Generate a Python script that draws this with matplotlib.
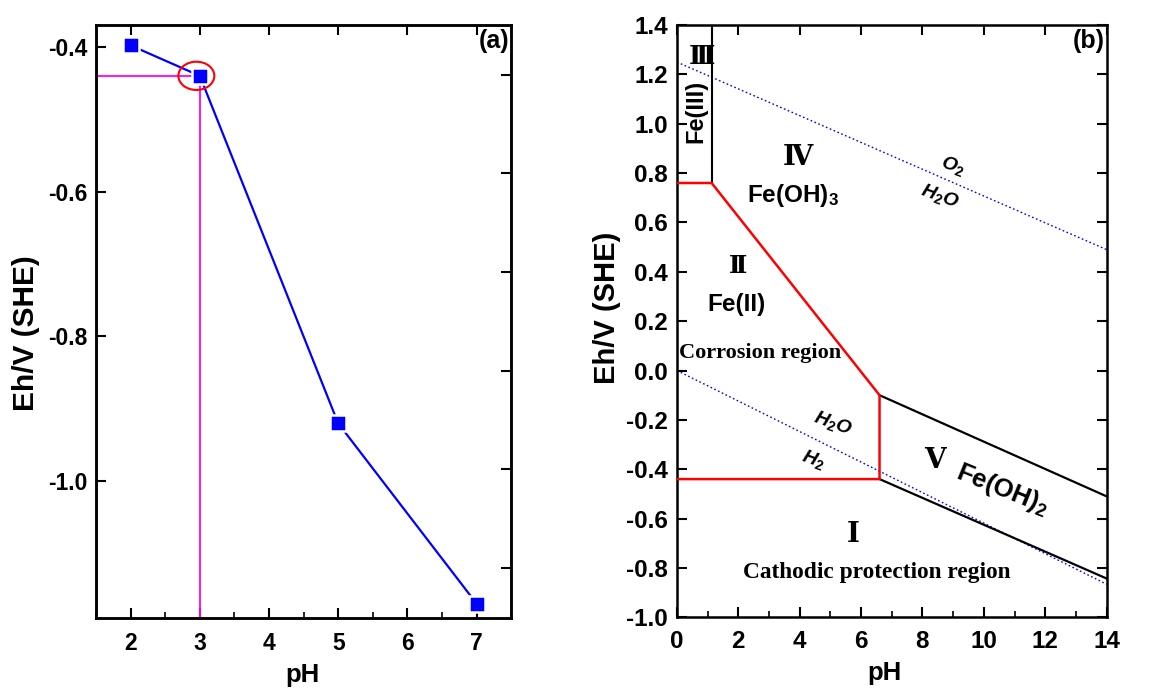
import matplotlib
matplotlib.use("Agg")
import matplotlib.pyplot as plt
from matplotlib.patches import Ellipse
from matplotlib.ticker import MultipleLocator

plt.rcParams['font.family'] = ['Liberation Sans', 'DejaVu Sans']
plt.rcParams['font.weight'] = 'bold'
plt.rcParams['mathtext.fontset'] = 'custom'
plt.rcParams['mathtext.rm'] = 'Liberation Sans:bold'
plt.rcParams['mathtext.bf'] = 'Liberation Sans:bold'
plt.rcParams['mathtext.it'] = 'Liberation Sans:italic:bold'

# ---------------- data: panel (a) ----------------
ph_a = [2, 3, 5, 7]
eh_a = [-0.398, -0.44, -0.92, -1.169]
mark_ph = 3
mark_eh = -0.44
a_xticks = [2, 3, 4, 5, 6, 7]
a_yticks = [-0.4, -0.6, -0.8, -1.0]
a_yticks_right = [-0.4386, -0.5745, -0.7105, -0.8472, -0.9838, -1.1203]

# ---------------- data: panel (b) ----------------
o2_ph = [0, 14]
o2_eh = [1.25, 0.49]
h2_ph = [0, 14]
h2_eh = [0.0, -0.866]
fe3_ph = [1.13, 1.13]
fe3_eh = [1.4, 0.76]
red_ph = [0, 1.13, 6.6, 6.6, 0]
red_eh = [0.76, 0.76, -0.10, -0.44, -0.44]
up_ph = [6.6, 14]
up_eh = [-0.10, -0.51]
lo_ph = [6.6, 14]
lo_eh = [-0.44, -0.843]
b_xticks = [0, 2, 4, 6, 8, 10, 12, 14]
b_yticks = [1.4, 1.2, 1.0, 0.8, 0.6, 0.4, 0.2, 0.0, -0.2, -0.4, -0.6, -0.8, -1.0]

fig = plt.figure(figsize=(11.6, 6.91), dpi=100)

# ================= panel (a) =================
ax1 = fig.add_axes([0.0828, 0.1056, 0.3578, 0.858])
ax1.set_xlim(1.5, 7.5)
ax1.set_ylim(-1.189, -0.37)
ax1.plot([ax1.get_xlim()[0], mark_ph], [mark_eh, mark_eh], color='#FF00FF', lw=1.3, zorder=2)
ax1.plot([mark_ph, mark_ph], [mark_eh, ax1.get_ylim()[0]], color='#FF00FF', lw=1.3, zorder=2)
ax1.plot(ph_a, eh_a, color='#0000FF', lw=1.6, marker='s', markersize=11.5,
         markerfacecolor='#0000FF', markeredgecolor='white', markeredgewidth=1.8, zorder=3)
ax1.add_patch(Ellipse((2.95, mark_eh), 0.52, 0.039, fill=False, edgecolor='#FF0000', lw=1.5, zorder=4))
ax1.set_xticks(a_xticks)
ax1.xaxis.set_minor_locator(MultipleLocator(0.5))
ax1.set_yticks(a_yticks)
ax1.set_yticklabels(['-0.4', '-0.6', '-0.8', '-1.0'])
ax1.tick_params(which='major', direction='in', length=7, width=1.5, top=True, right=False,
                labelsize=16.5, pad=6.5)
ax1.tick_params(axis='x', which='major', pad=10)
ax1.tick_params(which='minor', direction='in', length=4, width=1.2, top=False, right=False)
ax1r = ax1.twinx()
ax1r.set_ylim(ax1.get_ylim())
ax1r.set_yticks(a_yticks_right)
ax1r.set_yticklabels([])
ax1r.tick_params(direction='in', length=7, width=1.5)
for a in (ax1, ax1r):
    for s in a.spines.values():
        s.set_linewidth(1.8)
ax1.set_xlabel('pH', fontsize=18.5, fontweight='bold')
ax1.xaxis.set_label_coords(0.497, -0.096)
ax1.xaxis.label.set_verticalalignment('center')
ax1.set_ylabel('Eh/V (SHE)', fontsize=21.5, fontweight='bold')
ax1.yaxis.set_label_coords(-0.169, 0.48)
ax1.yaxis.label.set_verticalalignment('center')
ax1.text(0.995, 0.973, '(a)', transform=ax1.transAxes, ha='right', va='center',
         fontsize=18, fontweight='bold')

# ================= panel (b) =================
ax2 = fig.add_axes([0.5836, 0.1067, 0.3704, 0.857])
ax2.set_xlim(0, 14)
ax2.set_ylim(-1.0, 1.4)
ax2.plot(o2_ph, o2_eh, color='#0000FF', lw=1.0, linestyle=(0, (1.2, 1.8)), zorder=2)
ax2.plot(h2_ph, h2_eh, color='#0000FF', lw=1.0, linestyle=(0, (1.2, 1.8)), zorder=2)
ax2.plot(fe3_ph, fe3_eh, color='black', lw=1.5, zorder=3)
ax2.plot(up_ph, up_eh, color='black', lw=1.6, zorder=3)
ax2.plot(lo_ph, lo_eh, color='black', lw=1.6, zorder=3)
ax2.plot(red_ph, red_eh, color='#FF0000', lw=1.8, zorder=4, solid_joinstyle='miter')
ax2.set_xticks(b_xticks)
ax2.xaxis.set_minor_locator(MultipleLocator(1))
ax2.set_yticks(b_yticks)
ax2.set_yticklabels(['%.1f' % v for v in b_yticks])
ax2.tick_params(which='major', direction='in', length=7.5, width=1.5, top=True, right=True,
                labelsize=17.5, pad=6.3)
ax2.tick_params(axis='x', which='major', pad=9)
ax2.tick_params(which='minor', direction='in', length=4, width=1.2, top=False, right=False)
for s in ax2.spines.values():
    s.set_linewidth(1.8)
ax2.set_xlabel('pH', fontsize=18.5, fontweight='bold')
ax2.xaxis.set_label_coords(0.484, -0.094)
ax2.xaxis.label.set_verticalalignment('center')
ax2.set_ylabel('Eh/V (SHE)', fontsize=21, fontweight='bold')
ax2.yaxis.set_label_coords(-0.163, 0.522)
ax2.yaxis.label.set_verticalalignment('center')
ax2.text(0.996, 0.973, '(b)', transform=ax2.transAxes, ha='right', va='center',
         fontsize=18, fontweight='bold')

serif = ['Liberation Serif', 'DejaVu Serif']
ax2.text(0.8, 1.27, 'Ⅲ', family=serif, fontsize=19, fontweight='bold', ha='center', va='center')
ax2.text(0.62, 1.05, 'Fe(III)', rotation=90, fontsize=17, fontweight='bold', ha='center', va='center')
ax2.text(3.95, 0.86, 'Ⅳ', family=serif, fontsize=20, fontweight='bold', ha='center', va='center')
ax2.text(3.78, 0.71, 'Fe(OH)$_3$', fontsize=17.5, fontweight='bold', ha='center', va='center')
ax2.text(2.0, 0.42, 'Ⅱ', family=serif, fontsize=18, fontweight='bold', ha='center', va='center')
ax2.text(1.95, 0.266, 'Fe(II)', fontsize=17.5, fontweight='bold', ha='center', va='center')
ax2.text(0.08, 0.073, 'Corrosion region', family=serif, fontsize=16, fontweight='bold',
         ha='left', va='center')
ax2.text(9.0, 0.83, r'$O_{\mathit{2}}$', fontsize=14, ha='center', va='center', rotation=-20)
ax2.text(8.57, 0.705, r'$H_{\mathit{2}}O$', fontsize=14, ha='center', va='center', rotation=-20)
ax2.text(5.08, -0.215, r'$H_{\mathit{2}}O$', fontsize=14, ha='center', va='center', rotation=-20)
ax2.text(4.43, -0.36, r'$H_{\mathit{2}}$', fontsize=14, ha='center', va='center', rotation=-20)
ax2.text(8.4, -0.37, 'Ⅴ', family=serif, fontsize=20, fontweight='bold', ha='center', va='center')
ax2.text(10.6, -0.48, 'Fe(OH)$_2$', fontsize=18.5, fontweight='bold', ha='center', va='center',
         rotation=-22)
ax2.text(5.73, -0.67, 'Ⅰ', family=serif, fontsize=20, fontweight='bold', ha='center', va='center')
ax2.text(6.52, -0.82, 'Cathodic protection region', family=serif, fontsize=16.8, fontweight='bold',
         ha='center', va='center')

fig.savefig('out.png', dpi=100)
